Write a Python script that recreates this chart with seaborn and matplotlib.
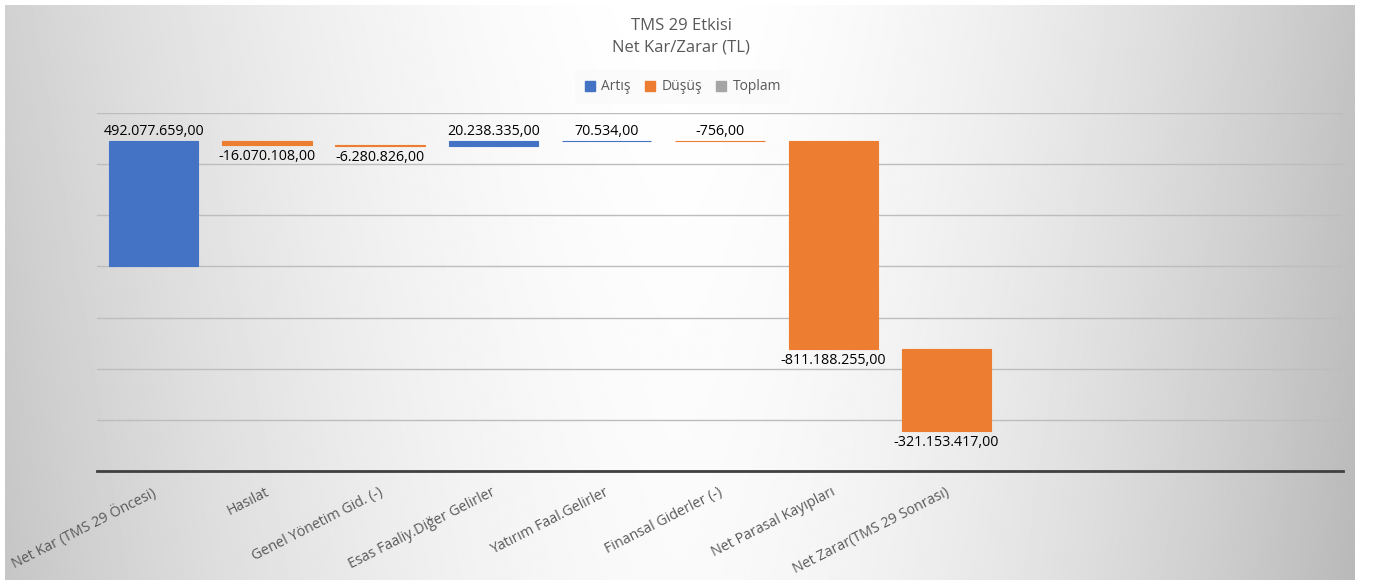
import numpy as np
import pandas as pd
import matplotlib
matplotlib.use("Agg")
import matplotlib.pyplot as plt
from matplotlib.patches import Patch
from matplotlib.transforms import ScaledTranslation
import seaborn as sns

sns.set_theme(style="white")
plt.rcParams["font.family"] = ["Open Sans", "DejaVu Sans"]

# ------------------------------------------------------------------
# Data
# ------------------------------------------------------------------
CATEGORIES = [
    "Net Kar (TMS 29 Öncesi)",
    "Hasılat",
    "Genel Yönetim Gid. (-)",
    "Esas Faaliy.Diğer Gelirler",
    "Yatırım Faal.Gelirler",
    "Finansal Giderler (-)",
    "Net Parasal Kayıpları",
    "Net Zarar(TMS 29 Sonrası)",
]
VALUES = [
    492077659.00,
    -16070108.00,
    -6280826.00,
    20238335.00,
    70534.00,
    -756.00,
    -811188255.00,
    -321153417.00,
]
LEGEND_LABELS = ["Artış", "Düşüş", "Toplam"]
TITLE_LINES = ["TMS 29 Etkisi", "Net Kar/Zarar (TL)"]

BLUE = "#4472C4"
ORANGE = "#ED7D31"
GRAY = "#A5A5A5"
TEXT_GRAY = "#595959"

df = pd.DataFrame({"category": CATEGORIES, "value": VALUES})
df["end"] = df["value"].cumsum()
df["start"] = df["end"] - df["value"]
df["color"] = np.where(df["value"] > 0, BLUE, ORANGE)
df["pos"] = np.arange(len(df))


def tr_fmt(v):
    s = f"{v:,.2f}"
    return s.replace(",", "_").replace(".", ",").replace("_", ".")


W, H = 1376, 580
fig = plt.figure(figsize=(W / 100, H / 100), dpi=100)
fig.patch.set_facecolor("white")

# ------------------------------------------------------------------
# Gradient background (chart area)
# ------------------------------------------------------------------
bg = fig.add_axes([5 / W, 0, 1350 / W, 575 / H], zorder=-10)
gx = np.linspace(0, 1, 600)
gy = np.linspace(0, 1, 250)
GX, GY = np.meshgrid(gx, gy)
dx = GX - 0.5
side = np.where(dx < 0, 0.18, 0.23)
grad = 1 - side * (np.abs(dx) / 0.5) ** 1.7 - 0.05 * GY * (0.4 + np.abs(dx))
grad = np.clip(grad, 0, 1)
bg.imshow(grad, cmap="gray", vmin=0, vmax=1, aspect="auto", extent=[0, 1, 1, 0])
bg.set_axis_off()

# ------------------------------------------------------------------
# Main axes
# ------------------------------------------------------------------
ax = fig.add_axes([97 / W, (H - 471) / H, (1343 - 97) / W, (471 - 113) / H])
ax.patch.set_alpha(0)

ax.bar(
    df["pos"], df["value"], bottom=df["start"], width=0.79,
    color=df["color"], edgecolor=df["color"], linewidth=0.8, zorder=3,
)

ax.set_xlim(-0.5, 10.5)
ax.set_ylim(-800e6, 600e6)
ax.set_yticks(np.arange(-800e6, 600e6 + 1, 200e6))
ax.yaxis.grid(True, color="#bdbdbd", linewidth=1.0, zorder=0)
ax.tick_params(axis="y", left=False, labelleft=False)
for s in ["left", "right", "top"]:
    ax.spines[s].set_visible(False)
ax.spines["bottom"].set_color("#404040")
ax.spines["bottom"].set_linewidth(2.0)
ax.spines["bottom"].set_zorder(4)

ax.set_xticks(df["pos"])
ax.set_xticklabels(df["category"], rotation=27, ha="right",
                   rotation_mode="anchor", fontsize=10.3, color=TEXT_GRAY)
ax.tick_params(axis="x", bottom=False, pad=4)
shift = ScaledTranslation(-1.5 / 72, 0, fig.dpi_scale_trans)
for lbl in ax.get_xticklabels():
    lbl.set_transform(lbl.get_transform() + shift)

# data labels
for _, r in df.iterrows():
    top = max(r["start"], r["end"])
    bottom = min(r["start"], r["end"])
    if r["value"] < 0 and abs(r["value"]) > 1000:
        ax.annotate(tr_fmt(r["value"]), (r["pos"], bottom), xytext=(0, -3),
                    textcoords="offset points", ha="center", va="top",
                    fontsize=10.3, color="black")
    else:
        ax.annotate(tr_fmt(r["value"]), (r["pos"], top), xytext=(0, 1.5),
                    textcoords="offset points", ha="center", va="bottom",
                    fontsize=10.3, color="black")

# title
fig.text(681 / W, 1 - 26 / H, TITLE_LINES[0], ha="center", va="center",
         fontsize=12, color=TEXT_GRAY)
fig.text(681 / W, 1 - 47 / H, TITLE_LINES[1], ha="center", va="center",
         fontsize=12, color=TEXT_GRAY)

# legend
handles = [Patch(facecolor=c, edgecolor=c) for c in (BLUE, ORANGE, GRAY)]
leg = fig.legend(handles, LEGEND_LABELS, loc="center", ncol=3,
                 bbox_to_anchor=(683 / W, 1 - 87 / H), frameon=True,
                 fontsize=10, handlelength=0.7, handleheight=0.7,
                 handletextpad=0.5, columnspacing=1.0, borderpad=0.7)
leg.get_frame().set_facecolor("#fafafa")
leg.get_frame().set_alpha(0.7)
leg.get_frame().set_edgecolor("none")
for t in leg.get_texts():
    t.set_color(TEXT_GRAY)

fig.savefig("out.png", dpi=100)
